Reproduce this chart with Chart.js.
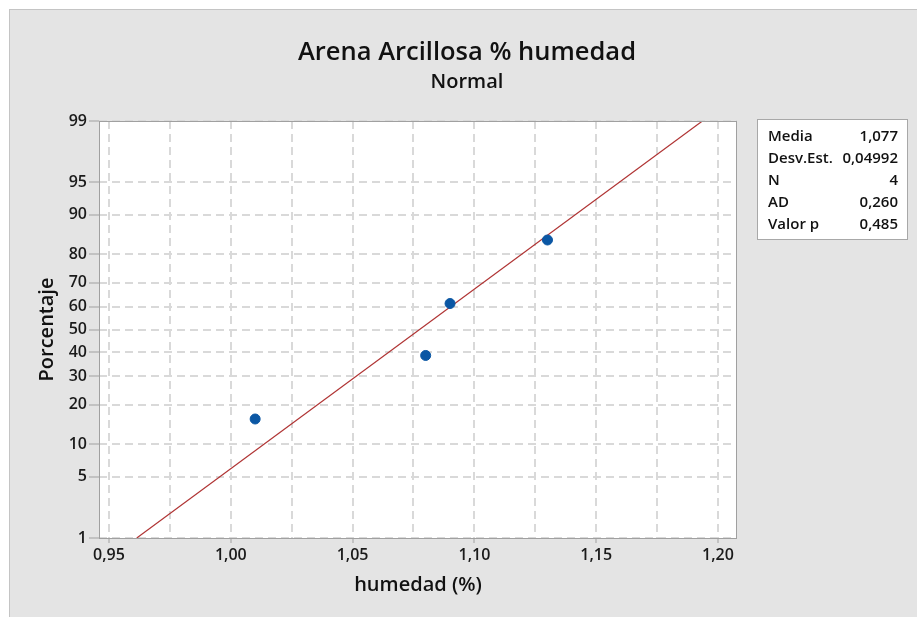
<!DOCTYPE html>
<html>
<head>
<meta charset="utf-8">
<script src="https://cdn.jsdelivr.net/npm/chart.js@4.4.1/dist/chart.umd.min.js"></script>
<style>
  body { margin: 0; background: #ffffff; }
  #wrap { width: 917px; height: 617px; }
</style>
</head>
<body>
<div id="wrap"><canvas id="chart" width="917" height="617"></canvas></div>
<script>
// data
const humedad = [1.01, 1.08, 1.09, 1.13];
const porcentaje = [15.9, 38.6, 61.4, 84.1];   // median ranks
const fitX = [0.9614, 1.1936];                  // fitted line ends
const fitP = [1, 99];
const yTicks = [1, 5, 10, 20, 30, 40, 50, 60, 70, 80, 90, 95, 99];
const xMajor = [0.95, 1.00, 1.05, 1.10, 1.15, 1.20];
const xGrid = [0.95, 0.975, 1.00, 1.025, 1.05, 1.075, 1.10, 1.125, 1.15, 1.175, 1.20];
const statLabels = ['Media', 'Desv.Est.', 'N', 'AD', 'Valor p'];
const statValues = ['1,077', '0,04992', '4', '0,260', '0,485'];

const FONT = "'Open Sans', 'DejaVu Sans', sans-serif";

// inverse normal cdf, used for the probability scale
function probit(p) {
  const a = [-3.969683028665376e+01, 2.209460984245205e+02, -2.759285104469687e+02, 1.383577518672690e+02, -3.066479806614716e+01, 2.506628277459239e+00];
  const b = [-5.447609879822406e+01, 1.615858368580409e+02, -1.556989798598866e+02, 6.680131188771972e+01, -1.328068155288572e+01];
  const c = [-7.784894002430293e-03, -3.223964580411365e-01, -2.400758277161838e+00, -2.549732539343734e+00, 4.374664141464968e+00, 2.938163982698783e+00];
  const d = [7.784695709041462e-03, 3.224671290700398e-01, 2.445134137142996e+00, 3.754408661907416e+00];
  const pl = 0.02425;
  let q, r;
  if (p < pl) {
    q = Math.sqrt(-2 * Math.log(p));
    return (((((c[0]*q+c[1])*q+c[2])*q+c[3])*q+c[4])*q+c[5]) / ((((d[0]*q+d[1])*q+d[2])*q+d[3])*q+1);
  }
  if (p > 1 - pl) {
    q = Math.sqrt(-2 * Math.log(1 - p));
    return -(((((c[0]*q+c[1])*q+c[2])*q+c[3])*q+c[4])*q+c[5]) / ((((d[0]*q+d[1])*q+d[2])*q+d[3])*q+1);
  }
  q = p - 0.5; r = q * q;
  return (((((a[0]*r+a[1])*r+a[2])*r+a[3])*r+a[4])*r+a[5])*q / (((((b[0]*r+b[1])*r+b[2])*r+b[3])*r+b[4])*r+1);
}

const yMin = probit(0.01), yMax = probit(0.99);
const isMajor = v => xMajor.some(m => Math.abs(m - v) < 1e-6);

// gray frame, white plot area, border and the stats box
const framePlugin = {
  id: 'frame',
  beforeDraw(chart) {
    const ctx = chart.ctx, a = chart.chartArea;
    ctx.save();
    ctx.fillStyle = '#ffffff';
    ctx.fillRect(0, 0, chart.width, chart.height);
    ctx.fillStyle = '#e4e4e4';
    ctx.fillRect(9, 9, chart.width - 9, chart.height - 9);
    ctx.strokeStyle = '#c4c4c4';
    ctx.lineWidth = 1;
    ctx.strokeRect(9.5, 9.5, chart.width, chart.height);
    ctx.fillStyle = '#ffffff';
    ctx.fillRect(a.left, a.top, a.right - a.left, a.bottom - a.top);
    ctx.restore();
  },
  afterDraw(chart) {
    const ctx = chart.ctx, a = chart.chartArea;
    ctx.save();
    ctx.strokeStyle = '#a0a0a0';
    ctx.lineWidth = 1;
    ctx.strokeRect(a.left + 0.5, a.top + 0.5, a.right - a.left - 1, a.bottom - a.top);
    // stats box
    const bx = a.right + 20, by = a.top - 2, bw = 150, bh = 120;
    ctx.fillStyle = '#ffffff';
    ctx.fillRect(bx, by, bw, bh);
    ctx.strokeStyle = '#a8a8a8';
    ctx.strokeRect(bx + 0.5, by + 0.5, bw, bh);
    ctx.fillStyle = '#111111';
    ctx.font = '600 15px ' + FONT;
    ctx.textBaseline = 'middle';
    statLabels.forEach((lab, i) => {
      const y = by + 18 + i * 22;
      ctx.textAlign = 'left';
      ctx.fillText(lab, bx + 11, y);
      ctx.textAlign = 'right';
      ctx.fillText(statValues[i], bx + bw - 9, y);
    });
    ctx.restore();
  }
};

new Chart(document.getElementById('chart'), {
  type: 'scatter',
  data: {
    datasets: [
      {
        label: 'humedad',
        data: humedad.map((x, i) => ({ x: x, y: probit(porcentaje[i] / 100) })),
        backgroundColor: '#0b57a4',
        borderColor: '#0b57a4',
        pointRadius: 5,
        order: 1
      },
      {
        label: 'ajuste',
        type: 'line',
        data: fitX.map((x, i) => ({ x: x, y: probit(fitP[i] / 100) })),
        borderColor: '#b03434',
        borderWidth: 1.2,
        pointRadius: 0,
        order: 2
      }
    ]
  },
  options: {
    responsive: false,
    animation: false,
    layout: { padding: { top: 20, left: 17, right: 0, bottom: 0 } },
    plugins: {
      legend: { display: false },
      tooltip: { enabled: false },
      title: {
        display: true,
        text: 'Arena Arcillosa % humedad',
        color: '#111111',
        font: { family: FONT, size: 25.5, weight: '600' },
        padding: { top: 17.7, bottom: 0 }
      },
      subtitle: {
        display: true,
        text: 'Normal',
        color: '#111111',
        font: { family: FONT, size: 20, weight: '600' },
        padding: { top: 1.7, bottom: 27 }
      }
    },
    scales: {
      x: {
        type: 'linear',
        min: 0.9459,
        max: 1.2078,
        afterBuildTicks: s => { s.ticks = xGrid.map(v => ({ value: v })); },
        afterFit: s => { s.height = 79; },
        ticks: {
          autoSkip: false,
          maxRotation: 0,
          padding: 3,
          color: '#1a1a1a',
          font: { family: FONT, size: 16, weight: '600' },
          callback: v => isMajor(v) ? v.toFixed(2).replace('.', ',') : ''
        },
        grid: {
          color: '#d9d9d9',
          lineWidth: 2,
          tickLength: 5,
          tickWidth: 1,
          tickColor: c => (c.tick && isMajor(c.tick.value)) ? '#a0a0a0' : 'rgba(0,0,0,0)'
        },
        border: { display: false, dash: [8, 5] },
        title: {
          display: true,
          text: 'humedad (%)',
          color: '#111111',
          font: { family: FONT, size: 20, weight: '600' },
          padding: { top: 0, bottom: 20 }
        }
      },
      y: {
        type: 'linear',
        min: yMin,
        max: yMax,
        afterBuildTicks: s => { s.ticks = yTicks.map(p => ({ value: probit(p / 100) })); },
        afterFit: s => { s.width = 82; },
        ticks: {
          autoSkip: false,
          padding: 2,
          color: '#1a1a1a',
          font: { family: FONT, size: 16, weight: '600' },
          callback: (v, i) => String(yTicks[i])
        },
        grid: {
          color: '#d9d9d9',
          lineWidth: 2,
          tickLength: 10,
          tickWidth: 1,
          tickColor: '#a0a0a0'
        },
        border: { display: false, dash: [8, 5] },
        title: {
          display: true,
          text: 'Porcentaje',
          color: '#111111',
          font: { family: FONT, size: 20, weight: '600' },
          padding: { top: 18, bottom: 0 }
        }
      },
      yR: {
        type: 'linear',
        position: 'right',
        min: yMin,
        max: yMax,
        afterFit: s => { s.width = 180; },
        ticks: { display: false },
        grid: { display: false },
        border: { display: false }
      }
    }
  },
  plugins: [framePlugin]
});
</script>
</body>
</html>
